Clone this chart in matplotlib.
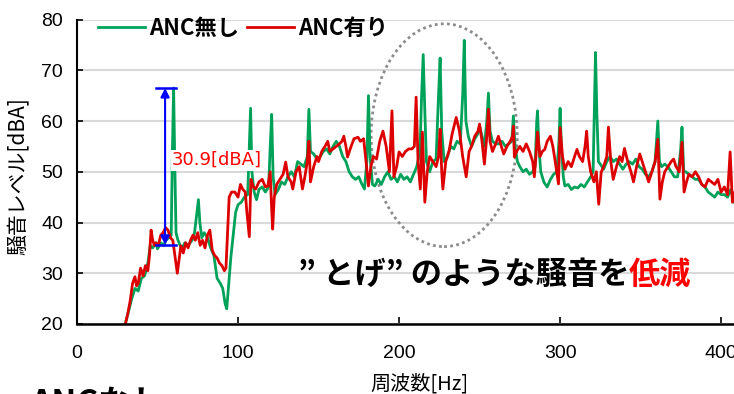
import matplotlib
matplotlib.use("Agg")
import matplotlib.pyplot as plt
from matplotlib.patches import Ellipse

plt.rcParams['font.family'] = ['Noto Sans CJK JP', 'DejaVu Sans']

GREEN = '#00A25A'
RED = '#DD0000'

# noise spectrum without ANC
freq_off = [30, 32, 34, 36, 38, 40, 42, 44, 45.5, 47, 49, 50, 52, 54, 55, 57, 58.5,
            59.3, 60, 60.7, 61.5, 62.5, 64, 65, 67, 69, 71.5, 73, 74.5, 75.4, 76.3,
            77.5, 79, 81, 83, 85, 87, 89, 90.5, 92, 93, 94, 95.5, 97, 98.5, 100, 102,
            104, 106, 107, 107.8, 108.6, 110, 111.5, 113, 115, 117, 119, 120, 120.9,
            121.8, 123, 125, 127, 129, 131, 133, 135, 137, 139, 141, 143, 144, 145,
            147, 149, 151, 153, 155, 157, 159, 161, 163, 165, 167, 169, 171, 173, 175,
            177, 178.5, 180, 181, 182, 183.5, 185, 187, 189, 191, 193, 195, 197, 199,
            201, 203, 205, 207, 209, 211, 213, 214, 215, 216, 217, 219, 221, 223,
            224.5, 225.5, 226.5, 228, 230, 232, 234, 236, 238, 239.5, 240.5, 241.5,
            243, 245, 247, 249, 250, 251.5, 253, 254.5, 255.5, 256.5, 258, 260, 262,
            264, 266, 268, 270, 271, 272, 273.5, 275, 277, 279, 281, 283, 284.5, 285.5,
            286, 286.8, 288, 290, 292, 294, 296, 298, 299.3, 300, 300.8, 302, 303, 305,
            307, 309, 311, 313, 315, 317, 319, 320.5, 321.5, 322, 322.8, 323.8, 325,
            327, 329, 331, 333, 335, 337, 339, 341, 343, 345, 347, 349, 351, 353, 355,
            357, 359, 360.7, 361.7, 363, 365, 367, 369, 371, 373, 374.8, 375.7, 376.8,
            378, 380, 382, 384, 386, 388, 390, 392, 394, 396, 398, 400, 402, 404, 406,
            408, 410]
level_off = [20, 22.5, 25, 27, 26.5, 29, 29.5, 32, 35.5, 35, 36, 34.8, 36, 35.5, 36.4, 37,
             37.5, 55, 66.5, 52, 38, 36.7, 35.5, 34.8, 36, 35.5, 36.5, 38, 42, 44.5, 40,
             37, 38, 37, 35, 33.5, 29, 28, 27, 24, 23, 27, 33, 37.5, 42, 43.5, 44, 45,
             45.5, 55, 62.5, 50, 46, 44.5, 46.5, 47, 46, 47, 55, 61.3, 49, 45.5, 46.5,
             48, 47.5, 49, 50, 49, 52, 51.5, 51, 53, 62.3, 54, 53.5, 52.5, 53, 54, 54.5,
             53.5, 55, 56, 55, 53, 52, 50, 49, 48.5, 49, 47.5, 46.6, 52, 65, 53, 47.5,
             47.2, 48.5, 47.5, 49, 50, 48.5, 49, 48, 49.5, 48.5, 49, 48, 49.5, 51, 54,
             65, 73.1, 62, 52, 50, 52, 52.5, 65, 72.4, 58, 52, 53, 55, 54.5, 56, 55.5,
             65, 75.9, 60, 57, 55, 56.5, 57.5, 59, 57, 55, 60, 65.5, 58, 56, 55.5, 55.5,
             56, 55, 55.5, 56, 61, 55, 52, 51, 50, 50.5, 49.5, 50, 51, 60, 62, 55, 50,
             47.9, 47, 48.5, 49.5, 50, 56, 62.5, 55, 49, 47.2, 47.5, 46.5, 47, 46.8,
             47.5, 47, 48, 49, 50, 65, 73.5, 62, 52, 51.5, 50.5, 52, 53, 52, 52.5, 51.5,
             50.5, 51.5, 52, 51.5, 52.5, 51, 50.5, 49.5, 49, 50, 52, 60, 52, 51, 51.5,
             51, 50, 49, 49, 54, 58.8, 50, 50, 49.5, 49, 48.5, 48.5, 47.5, 47, 46, 45.5,
             45, 46, 45.5, 45.5, 45, 46.5, 44, 43.5]

# noise spectrum with ANC
freq_on = [30, 31.5, 33, 34.5, 36, 37, 38, 39.5, 41, 42.5, 44, 45, 46, 47, 48, 49, 50.5,
           52, 53.5, 55, 56.5, 58, 59.5, 61, 62.3, 63.5, 64.5, 66, 67.5, 69, 70.5, 72,
           73.5, 75, 76.5, 78, 79.5, 81, 82.5, 84, 85.5, 87, 88.5, 90, 91.5, 92.5, 93.5,
           94.5, 96, 98, 100, 101.5, 103, 104.5, 105.5, 107, 108, 109.5, 111, 113, 115,
           117, 118.5, 120, 120.7, 121.5, 122.5, 124, 126, 128, 129.6, 131, 133, 134,
           136, 138, 140, 141.5, 143, 144, 145, 147, 149, 150, 152, 154, 155.7, 157,
           159, 161, 163, 164.5, 165.7, 167, 168, 170, 172, 174.5, 176, 178, 179.5,
           181, 182.5, 184, 186, 188, 190, 192, 194, 195.6, 196.8, 198.5, 200, 202,
           204, 206, 208, 209.5, 210.6, 211.8, 213.2, 214.5, 216, 217.5, 219, 221, 223,
           224.5, 225.5, 226.5, 227.2, 229, 231, 233, 235.5, 237.5, 239.5, 241.7, 243.5,
           245, 247, 249, 250, 251.5, 253, 254.5, 255.5, 256.5, 258, 260, 261.7, 263.5,
           265, 267, 269, 270.5, 271, 271.6, 273, 275, 277, 279, 281, 283, 284, 285,
           286, 287.5, 289, 290.5, 292, 294, 295.5, 297, 299, 300, 301.5, 303, 305, 307,
           309, 310.5, 312, 314, 315.5, 316.5, 317.5, 319, 321, 322.5, 324, 325.5, 327,
           329, 330, 331.5, 333, 335, 337, 338.5, 340, 342, 344, 345.6, 347.5, 349.5,
           351, 353, 355, 357, 359, 360.7, 362, 363.5, 365, 367, 369, 370.5, 372, 374,
           375.7, 377, 378.5, 380, 382, 384, 386, 388, 390, 392, 394, 396, 398, 400,
           402, 404, 405.6, 407, 408.5, 410]
level_on = [20, 22, 24.5, 28, 29.3, 27.5, 28, 31, 29.5, 31.5, 30.5, 33.5, 38.5, 36.5, 35.5,
            36, 35.5, 37.5, 38, 39, 38.5, 37, 36.5, 33, 30, 33, 35.4, 34, 36, 35, 36.5,
            37.5, 36.5, 38, 35.5, 36.5, 35, 37.5, 38.5, 34.5, 33.5, 33, 32, 31.5, 30.5,
            31, 38, 45, 46, 46, 45, 47.5, 46.5, 46, 42, 37.2, 48.5, 47, 46.6, 48, 48.5,
            47, 47.2, 50, 44, 38.7, 45, 47.5, 48.5, 49.5, 51.9, 49, 48, 46.6, 50, 51,
            46.6, 49, 52, 56, 48, 51, 53, 52, 54, 55, 56, 54, 54.5, 55, 55.5, 56, 57, 55,
            52.9, 54.8, 56.5, 56.8, 56, 56.5, 52, 47.2, 51, 53, 52.5, 56, 58, 55, 50, 62,
            49, 51, 53.9, 53, 54, 54.5, 54.5, 55, 64.7, 52, 46.6, 57.8, 44, 50, 53, 52,
            51, 53, 58.4, 50, 46.6, 52, 54, 57.5, 60.7, 58, 53, 49, 54, 55, 57, 58, 59.4,
            56, 51.5, 57, 62.3, 56, 54, 55.5, 57, 55, 53.5, 55, 56, 57, 59, 52.9, 54, 55,
            54, 55.5, 54, 52, 49, 53, 57.8, 53, 54, 54.4, 56, 57, 55, 52, 47.6, 58.7, 53,
            50.5, 52, 51, 53, 54.4, 53, 52, 55, 58, 53, 50, 48, 50, 43.6, 49.9, 51, 53,
            58.8, 52, 48.5, 51, 53, 52, 54.6, 52, 50, 48, 51, 53.5, 52, 50, 48, 50, 52,
            56.4, 44.6, 48, 50, 51, 52, 52.5, 51, 50, 55.8, 46, 48, 49.5, 49, 50, 49,
            47.5, 47, 48.5, 48, 47.5, 48.5, 46, 47, 45.5, 53.9, 44, 46, 45]

# peak-to-peak difference marker
gap_freq = 54.7
gap_top = 66.5
gap_bottom = 35.6

fig = plt.figure(figsize=(7.34, 3.94), dpi=100)
ax = fig.add_axes([77/734, 70/394, 657/734, 304.5/394])

ax.plot(freq_off, level_off, color=GREEN, lw=2, label='ANC無し')
ax.plot(freq_on, level_on, color=RED, lw=2, label='ANC有り')

ax.set_xlim(0, 408)
ax.set_ylim(20, 80)
ax.set_xticks([0, 100, 200, 300, 400])
ax.set_yticks([20, 30, 40, 50, 60, 70, 80])
ax.yaxis.grid(True, color='#D9D9D9', lw=1.5)
ax.set_axisbelow(True)
for side in ('top', 'right'):
    ax.spines[side].set_visible(False)
ax.spines['bottom'].set_linewidth(1.8)
ax.spines['left'].set_linewidth(1.5)
ax.tick_params(axis='x', direction='in', length=5, width=1.2, pad=15, labelsize=14)
ax.tick_params(axis='y', direction='in', length=4, width=1.2, pad=10, labelsize=14)
for lbl in ax.get_xticklabels() + ax.get_yticklabels():
    lbl.set_fontfamily('Liberation Sans')

# level gap arrow with caps
ax.annotate('', xy=(gap_freq, gap_top), xytext=(gap_freq, gap_bottom),
            arrowprops=dict(arrowstyle='<|-|>', color='blue', lw=1.5,
                            mutation_scale=13, shrinkA=0, shrinkB=0))
ax.plot([49, 61.5], [gap_top, gap_top], color='blue', lw=1.8)
ax.plot([49, 61.5], [gap_bottom, gap_bottom], color='blue', lw=1.8)
ax.text(59, 52.3, f'{gap_top - gap_bottom:.1f}[dBA]', color='#FF0000', fontsize=13,
        family='DejaVu Sans', va='center', ha='left',
        bbox=dict(facecolor='white', edgecolor='none', pad=1))

ax.add_patch(Ellipse((228, 57.2), 90.7, 43.9, fill=False, ec='#8C8C8C', lw=2,
                     ls=(0, (1, 1.2))))

ax.text(342.9, 29.6, '” とげ” のような騒音を', ha='right', va='center',
        fontsize=22.5, fontweight='bold', color='black')
ax.text(342.9, 29.6, '低減', ha='left', va='center',
        fontsize=22.5, fontweight='bold', color='#FF0000')

ax.legend(loc='center left', bbox_to_anchor=((98 - 77)/657, (324 - 28)/304.5),
          ncol=2, frameon=False, borderpad=0, borderaxespad=0, handlelength=2.1,
          handletextpad=0.2, columnspacing=0.35, prop=dict(weight='bold', size=16))

fig.text(419/734, (394 - 384)/394, '周波数[Hz]', ha='center', va='center', fontsize=14.5)
fig.text(18/734, (394 - 176)/394, '騒音レベル[dBA]', ha='center', va='center',
         rotation=90, fontsize=15)
fig.text(30/734, 0.015, 'ANCなし', ha='left', va='top', fontsize=24, fontweight='bold')

fig.savefig('out.png', dpi=100)
